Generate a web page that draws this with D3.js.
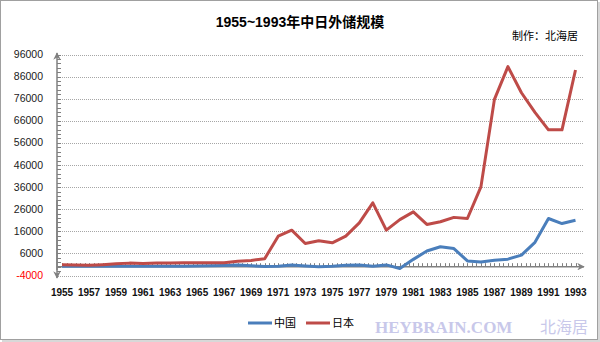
<!DOCTYPE html>
<html><head><meta charset="utf-8">
<script src="https://cdn.jsdelivr.net/npm/d3@7"></script>
<style>body{margin:0;background:#fff}svg{display:block}</style>
</head><body>
<svg id="c" width="600" height="342"></svg>
<script>
const years = d3.range(1955, 1994);
const china = [200,200,200,200,200,200,200,200,200,200,300,400,500,700,400,100,200,700,300,0,200,600,800,200,800,-800,3300,7100,9000,8200,2600,2100,2900,3400,5200,11000,21800,19500,21000];
const japan = [900,800,600,900,1300,1600,1400,1600,1700,1800,1800,1800,1800,2500,2800,3600,13800,16500,10500,11700,10800,13800,19800,28900,16500,21300,24800,19100,20300,22300,21800,36100,75700,90500,78700,69800,61900,61900,89000];
const yTicks = [-4000,6000,16000,26000,36000,46000,56000,66000,76000,86000,96000];
const xTickLabels = d3.range(1955, 1994, 2);
const seriesNames = ["中国","日本"];
const colors = ["#4a7ebb","#be4b48"];

const svg = d3.select("#c");
const x = d3.scaleLinear().domain([1955,1993]).range([62,575.5]);
const y = d3.scaleLinear().domain([-4000,96000]).range([275.5,54.5]);

// border
svg.append("rect").attr("x",0.5).attr("y",0.5).attr("width",597).attr("height",339).attr("fill","#fff").attr("stroke","#a0a0a0");
svg.append("line").attr("x1",599).attr("x2",599).attr("y1",2).attr("y2",342).attr("stroke","#d8d8d8").attr("stroke-width",2);
svg.append("line").attr("x1",2).attr("x2",600).attr("y1",341).attr("y2",341).attr("stroke","#d8d8d8").attr("stroke-width",2);

// gridlines
svg.append("g").selectAll("line").data(yTicks).join("line")
  .attr("x1",58).attr("x2",583).attr("y1",d=>Math.round(y(d))+0.5).attr("y2",d=>Math.round(y(d))+0.5)
  .attr("stroke","#a6a6a6").attr("stroke-dasharray","1,1");

// y labels
svg.append("g").selectAll("text").data(yTicks).join("text")
  .attr("x",43).attr("y",d=>y(d)+3.5).attr("text-anchor","end")
  .attr("font-family","Liberation Sans, Arial, sans-serif").attr("font-size",10.5)
  .attr("fill",d=>d<0?"#ff0000":"#1a1a1a").text(d=>d);

// axes
const axisCol = "#808080";
svg.append("defs").html(`<marker id="ar" viewBox="0 0 10 10" refX="9" refY="5" markerWidth="5" markerHeight="5" orient="auto"><path d="M0,0 L10,5 L0,10 L3,5 Z" fill="${axisCol}"/></marker>`);
svg.append("line").attr("x1",57).attr("x2",57).attr("y1",270).attr("y2",53).attr("stroke",axisCol).attr("stroke-width",1.5).attr("marker-end","url(#ar)");
svg.append("line").attr("x1",57).attr("x2",57).attr("y1",200).attr("y2",278).attr("stroke",axisCol).attr("stroke-width",1.5).attr("marker-end","url(#ar)");
svg.append("line").attr("x1",57).attr("x2",584).attr("y1",y(0)).attr("y2",y(0)).attr("stroke",axisCol).attr("stroke-width",1.5).attr("marker-end","url(#ar)");
// y minor ticks
svg.append("g").selectAll("line").data(d3.range(-2000,96001,2000)).join("line")
  .attr("x1",57).attr("x2",61).attr("y1",d=>Math.round(y(d))+0.5).attr("y2",d=>Math.round(y(d))+0.5)
  .attr("stroke",axisCol);
// x minor ticks
svg.append("g").selectAll("line").data(d3.range(1955,1993.01,1/3)).join("line")
  .attr("x1",d=>Math.round(x(d))+0.5).attr("x2",d=>Math.round(x(d))+0.5).attr("y1",y(0)).attr("y2",y(0)-3.5)
  .attr("stroke",axisCol);

// x labels
svg.append("g").selectAll("text").data(xTickLabels).join("text")
  .attr("x",d=>x(d)).attr("y",296).attr("text-anchor","middle")
  .attr("font-family","Liberation Sans, Arial, sans-serif").attr("font-size",10).attr("font-weight","bold")
  .attr("fill","#111").text(d=>d);

// lines
const line = d3.line().x((d,i)=>x(years[i])).y(d=>y(d));
[china, japan].forEach((s,k)=>{
  svg.append("path").datum(s).attr("d",line).attr("fill","none")
    .attr("stroke",colors[k]).attr("stroke-width",3).attr("stroke-linejoin","round");
});

// title
svg.append("text").attr("x",300).attr("y",27).attr("text-anchor","middle")
  .attr("font-family","Liberation Sans, Noto Sans CJK SC, sans-serif").attr("font-size",14).attr("font-weight","bold")
  .attr("fill","#000").text("1955~1993年中日外储规模");
svg.append("text").attr("x",578).attr("y",40).attr("text-anchor","end")
  .attr("font-family","Noto Sans CJK SC, sans-serif").attr("font-size",11)
  .attr("fill","#000").text("制作：北海居");

// legend
const lg = svg.append("g");
const lx = [248, 306];
seriesNames.forEach((n,k)=>{
  lg.append("line").attr("x1",lx[k]).attr("x2",lx[k]+24).attr("y1",323).attr("y2",323).attr("stroke",colors[k]).attr("stroke-width",3);
  lg.append("text").attr("x",lx[k]+26).attr("y",327).attr("font-family","Noto Sans CJK SC, sans-serif").attr("font-size",11).attr("fill","#000").text(n);
});

// watermark
svg.append("text").attr("x",375).attr("y",333).attr("font-family","Liberation Serif, serif").attr("font-size",17).attr("font-weight","bold")
  .attr("fill","#c8c8ea").text("HEYBRAIN.COM");
svg.append("text").attr("x",588).attr("y",333).attr("text-anchor","end").attr("font-family","Noto Sans CJK SC, serif").attr("font-size",16)
  .attr("fill","#c8c8ea").text("北海居");
</script>
</body></html>
